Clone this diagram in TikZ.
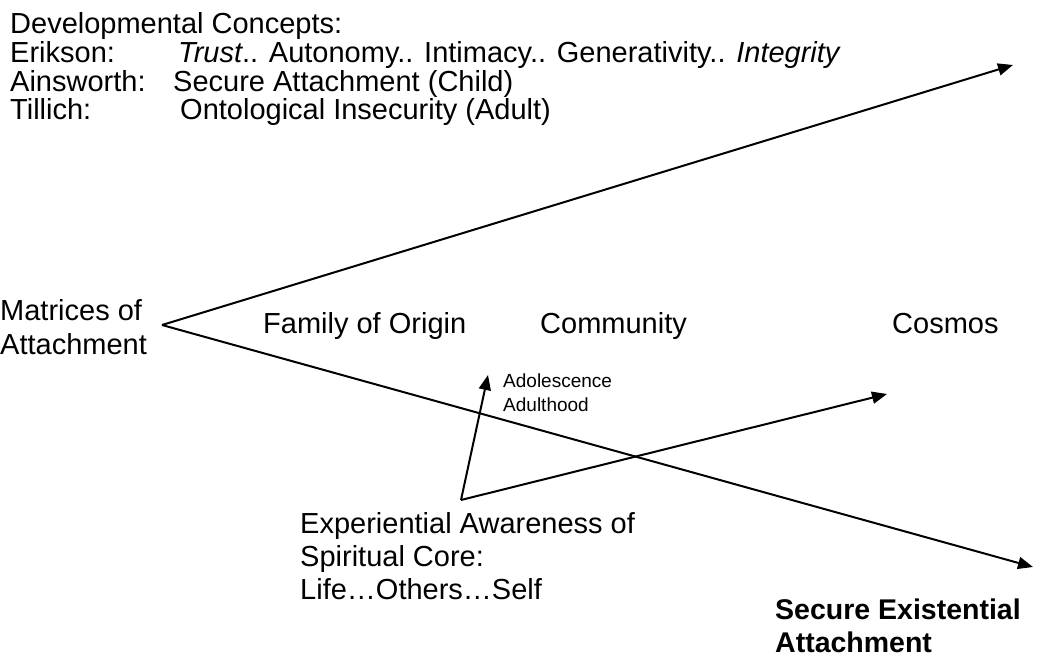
\documentclass[tikz,border=0pt]{standalone}
\usepackage{fontspec}
\setmainfont{Liberation Sans}
\usetikzlibrary{arrows.meta, positioning}
\def\txt{\fontsize{29}{33}\selectfont}
\def\sml{\fontsize{19}{24}\selectfont}
\def\big{\fontsize{28.5}{33}\selectfont\bfseries}

\begin{document}
\begin{tikzpicture}[x=1pt, y=-1pt,
    lbl/.style={anchor=base west, inner sep=0pt, font=\txt},
    arr/.style={line width=2pt, -{Triangle[length=15pt, width=12pt]}}]
    \useasboundingbox (0,0) rectangle (1053,660);

    % developmental concepts
    \node[lbl] (dev) at (10, 34) {Developmental Concepts:};
    \node[lbl] (erik) at (10, 63) {Erikson:};
    \node[lbl] (erikVal) at (178, 63) {\textit{Trust}.. Autonomy.. Intimacy.. Generativity.. \textit{Integrity}};
    \node[lbl] (ains) at (10, 92) {Ainsworth:};
    \node[lbl] (ainsVal) at (173, 92) {Secure Attachment (Child)};
    \node[lbl] (till) at (10, 120) {Tillich:};
    \node[lbl] (tillVal) at (180, 120) {Ontological Insecurity (Adult)};

    % matrices
    \node[lbl] (mat1) at (0, 321) {Matrices of};
    \node[lbl] (mat2) at (0, 355) {Attachment};
    \node[lbl] (family) at (263, 334) {Family of Origin};
    \node[lbl] (community) at (540, 334) {Community};
    \node[lbl] (cosmos) at (892, 334) {Cosmos};

    \coordinate (apex) at (162, 325);
    \coordinate (upEnd) at (1013, 65);
    \coordinate (downEnd) at (1033, 567);
    \draw[arr] (apex) -- (upEnd);
    \draw[arr] (apex) -- (downEnd);

    % spiritual core
    \coordinate (core) at (461, 500);
    \coordinate (adolTip) at (488, 375);
    \coordinate (cosmosTip) at (887, 394);
    \draw[arr] (core) -- (adolTip);
    \draw[arr] (core) -- (cosmosTip);
    \node[lbl, font=\sml] (adol) at (503, 388) {Adolescence};
    \node[lbl, font=\sml] (adult) at (503, 412) {Adulthood};

    \node[lbl] (exp1) at (300, 533) {Experiential Awareness of};
    \node[lbl] (exp2) at (300, 566) {Spiritual Core:};
    \node[lbl] (exp3) at (300, 599) {Life…Others…Self};

    \node[lbl, font=\big] (sec1) at (775, 619) {Secure Existential};
    \node[lbl, font=\big] (sec2) at (775, 652) {Attachment};
\end{tikzpicture}
\end{document}
